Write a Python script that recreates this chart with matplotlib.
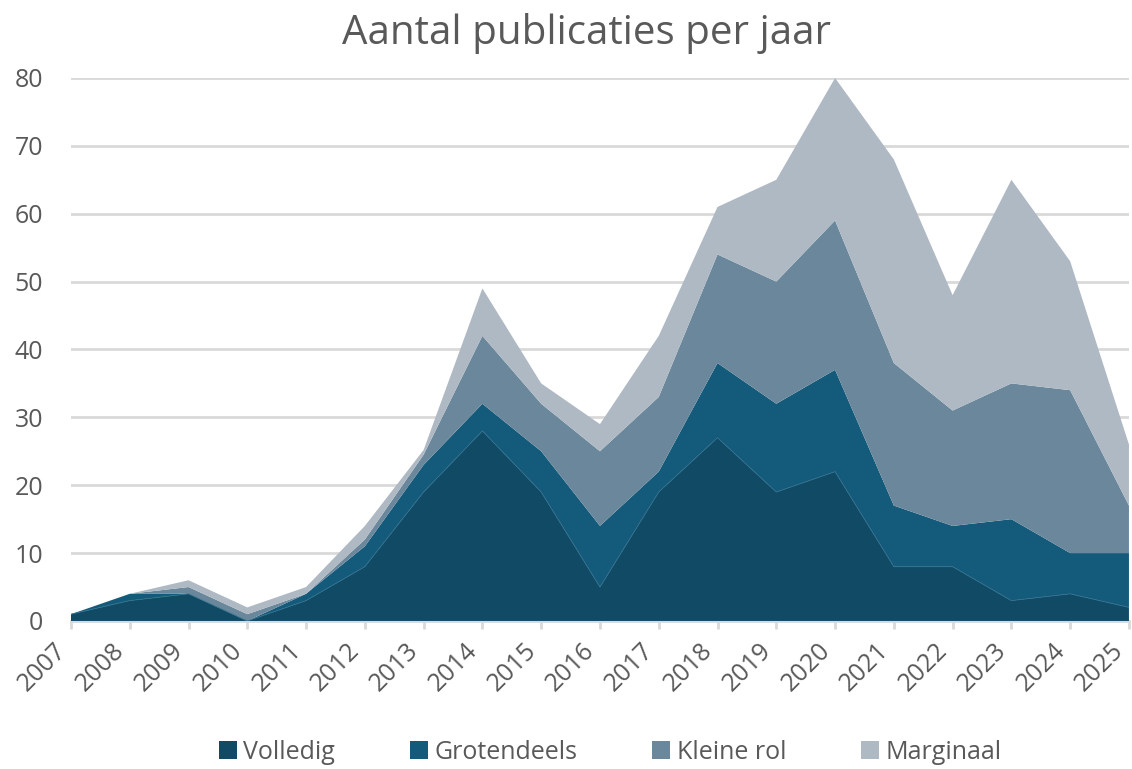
import matplotlib
matplotlib.use("Agg")
import matplotlib.pyplot as plt
import numpy as np

plt.rcParams['font.family'] = ['Open Sans', 'DejaVu Sans']

jaren = list(range(2007, 2026))
volledig    = [1, 3, 4, 0, 3, 8, 19, 28, 19, 5, 19, 27, 19, 22, 8, 8, 3, 4, 2]
grotendeels = [0, 1, 0, 0, 1, 3, 4, 4, 6, 9, 3, 11, 13, 15, 9, 6, 12, 6, 8]
kleine_rol  = [0, 0, 1, 1, 0, 1, 1.5, 10, 7, 11, 11, 16, 18, 22, 21, 17, 20, 24, 7]
marginaal   = [0, 0, 1, 1, 1, 2, 0.7, 7, 3, 4, 9, 7, 15, 21, 30, 17, 30, 19, 9]

namen = ["Volledig", "Grotendeels", "Kleine rol", "Marginaal"]
kleuren = ["#114A65", "#145A7A", "#6A879B", "#AEB9C4"]
tekst = "#595959"

fig = plt.figure(figsize=(11.32, 7.69), dpi=100)
ax = fig.add_axes([0.0627, 0.1925, 0.9346, 0.7061])

ax.stackplot(jaren, volledig, grotendeels, kleine_rol, marginaal,
             labels=namen, colors=kleuren, linewidth=0, zorder=3)
# dunne lichte lijn op de grens volledig/grotendeels
ax.plot(jaren, volledig, color="#2f6f8d", linewidth=0.6, zorder=4)

ax.set_xlim(2007, 2025)
ax.set_ylim(0, 80)
ax.set_yticks(range(0, 81, 10))
ax.set_xticks(jaren)
ax.set_xticklabels([str(j) for j in jaren], rotation=45, ha="right", va="bottom",
                   rotation_mode="anchor")

ax.grid(axis="y", color="#d9d9d9", linewidth=2, zorder=0)
ax.set_axisbelow(True)
for s in ["top", "right", "left"]:
    ax.spines[s].set_visible(False)
ax.spines["bottom"].set_color("#d9d9d9")
ax.spines["bottom"].set_linewidth(2)
ax.tick_params(axis="y", length=0, labelsize=18, labelcolor=tekst, pad=20)
ax.tick_params(axis="x", length=6, width=2, color="#d9d9d9", labelsize=18, labelcolor=tekst, pad=19)

fig.text(0.518, 0.957, "Aantal publicaties per jaar", ha="center", va="center",
         fontsize=29, color=tekst)

fig.legend(loc="center", bbox_to_anchor=(0.539, 0.022), ncol=4, frameon=False,
           fontsize=18, labelcolor=tekst, handlelength=0.72, handleheight=0.72,
           columnspacing=3.0, handletextpad=0.25)

fig.savefig("out.png", dpi=100)
